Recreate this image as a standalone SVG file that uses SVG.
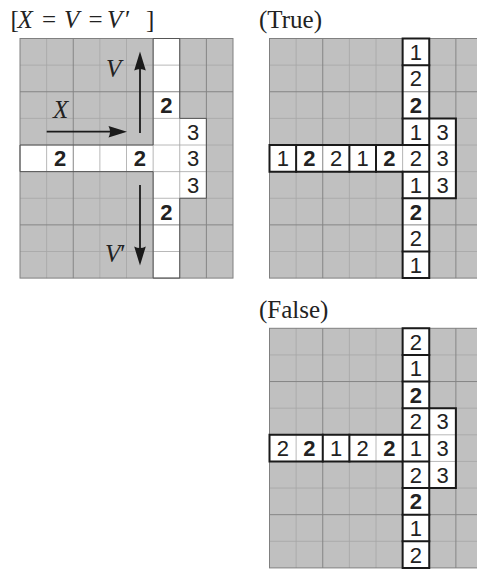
<svg xmlns="http://www.w3.org/2000/svg" width="477" height="570" viewBox="0 0 477 570">
<style>
.bg{fill:#c0c0c0}
.minor{stroke:#a6a6a6;stroke-width:0.8;fill:none}
.major{stroke:#858585;stroke-width:1;fill:none}
.frame{stroke:#808080;stroke-width:1;fill:none}
.cell{fill:#ffffff}
.wout{stroke:#555555;stroke-width:1;fill:none}
.thick{stroke:#1a1a1a;stroke-width:2;fill:none;stroke-linecap:square}
.num{font-family:"Liberation Sans","DejaVu Sans",sans-serif;font-size:22px;fill:#222;text-anchor:middle}
.b{font-weight:bold}
.ttl{font-family:"Liberation Serif","DejaVu Serif",serif;font-size:25px;fill:#222}
.it{font-style:italic}
.arr{stroke:#1a1a1a;stroke-width:1.8;fill:none}
.head{fill:#1a1a1a}
</style>

<!-- ===== Left panel ===== -->
<g id="left-panel">
<text class="ttl" y="27.5" font-size="26"><tspan x="10.5">[</tspan><tspan x="17.5" class="it">X</tspan><tspan x="42">=</tspan><tspan x="64" class="it">V</tspan><tspan x="88.5">=</tspan><tspan x="107" class="it">V</tspan><tspan x="125">′</tspan><tspan x="146">]</tspan></text>
<rect class="bg" x="20" y="38.5" width="213" height="239.6"/>
<g class="cell">
<rect x="153.125" y="38.5" width="26.625" height="239.6"/>
<rect x="179.75" y="118.375" width="26.625" height="79.875"/>
<rect x="20" y="145" width="133.125" height="26.625"/>
</g>
<path class="minor" d="M46.625 38.5V278.1M99.875 38.5V278.1M126.5 38.5V278.1M153.125 38.5V278.1M179.75 38.5V278.1M20 65.125H233M20 118.375H233M20 145H233M20 171.625H233M20 198.25H233M20 251.5H233"/>
<path class="major" d="M73.25 38.5V278.1M206.375 38.5V278.1M20 91.75H233M20 224.875H233"/>
<rect class="frame" x="20" y="38.5" width="213" height="239.6"/>
<path class="wout" d="M153.125 38.5H179.75V118.375H206.375V198.25H179.75V278.1H153.125V171.625H20V145H153.125Z"/>
<g id="left-numbers">
<text class="num b" x="166.4" y="113">2</text>
<text class="num" x="193" y="139.6">3</text>
<text class="num b" x="60" y="166.3">2</text>
<text class="num b" x="139.8" y="166.3">2</text>
<text class="num" x="193" y="166.3">3</text>
<text class="num" x="193" y="192.9">3</text>
<text class="num b" x="166.4" y="219.5">2</text>
</g>
</g>

<g id="connectors">
<path class="arr" d="M140 133V66"/>
<path class="head" d="M140 51.5L145.8 70.5Q140 67.5 134.2 70.5Z"/>
<path class="arr" d="M46.7 131.7H113"/>
<path class="head" d="M127 131.7L108.5 137.4Q111.5 131.7 108.5 126Z"/>
<path class="arr" d="M140 185V251"/>
<path class="head" d="M140 265.5L145.8 246.5Q140 249.5 134.2 246.5Z"/>
</g>
<g id="label-V"><text class="ttl it" x="106" y="76.5" font-size="26">V</text></g>
<g id="label-X"><text class="ttl it" x="53" y="118" font-size="26">X</text></g>
<g id="label-V2"><text class="ttl it" x="105" y="262" font-size="26">V<tspan font-style="normal">′</tspan></text></g>

<!-- ===== True panel ===== -->
<g id="true-panel">
<text class="ttl" x="259" y="28">(True)</text>
<rect class="bg" x="269.5" y="38.5" width="213" height="239.6"/>
<g class="cell">
<rect x="402.625" y="38.5" width="26.625" height="239.6"/>
<rect x="429.25" y="118.375" width="26.625" height="79.875"/>
<rect x="269.5" y="145" width="133.125" height="26.625"/>
</g>
<path class="minor" d="M296.125 38.5V278.1M349.375 38.5V278.1M376 38.5V278.1M402.625 38.5V278.1M429.25 38.5V278.1M269.5 65.125H483M269.5 118.375H483M269.5 145H483M269.5 171.625H483M269.5 198.25H483M269.5 251.5H483"/>
<path class="major" d="M322.75 38.5V278.1M455.875 38.5V278.1M269.5 91.75H483M269.5 224.875H483"/>
<rect class="frame" x="269.5" y="38.5" width="213" height="239.6"/>
<path class="thick" d="M402.625 38.5H429.25V118.375H455.875V198.25H429.25V278.1H402.625V171.625H269.5V145H402.625Z"/>
<path class="thick" d="M402.625 65.125H429.25M402.625 118.375H429.25M402.625 145H429.25M402.625 171.625H429.25M402.625 198.25H429.25M402.625 251.5H429.25M429.25 118.375V198.25M296.125 145V171.625M349.375 145V171.625M376 145V171.625"/>
<g id="true-numbers">
<text class="num" x="415.9" y="59.8">1</text>
<text class="num" x="415.9" y="86.4">2</text>
<text class="num b" x="415.9" y="113">2</text>
<text class="num" x="415.9" y="139.6">1</text>
<text class="num" x="442.6" y="139.6">3</text>
<text class="num" x="282.8" y="166.3">1</text>
<text class="num b" x="309.4" y="166.3">2</text>
<text class="num" x="336.1" y="166.3">2</text>
<text class="num" x="362.7" y="166.3">1</text>
<text class="num b" x="389.3" y="166.3">2</text>
<text class="num" x="415.9" y="166.3">2</text>
<text class="num" x="442.6" y="166.3">3</text>
<text class="num" x="415.9" y="192.9">1</text>
<text class="num" x="442.6" y="192.9">3</text>
<text class="num b" x="415.9" y="219.5">2</text>
<text class="num" x="415.9" y="246.2">2</text>
<text class="num" x="415.9" y="272.8">1</text>
</g>
</g>

<!-- ===== False panel ===== -->
<g id="false-panel">
<text class="ttl" x="259" y="318">(False)</text>
<rect class="bg" x="269.5" y="328.3" width="213" height="239.6"/>
<g class="cell">
<rect x="402.625" y="328.3" width="26.625" height="239.6"/>
<rect x="429.25" y="408.175" width="26.625" height="79.875"/>
<rect x="269.5" y="434.8" width="133.125" height="26.625"/>
</g>
<path class="minor" d="M296.125 328.3V567.9M349.375 328.3V567.9M376 328.3V567.9M402.625 328.3V567.9M429.25 328.3V567.9M269.5 354.925H483M269.5 408.175H483M269.5 434.8H483M269.5 461.425H483M269.5 488.05H483M269.5 541.3H483"/>
<path class="major" d="M322.75 328.3V567.9M455.875 328.3V567.9M269.5 381.55H483M269.5 514.675H483"/>
<rect class="frame" x="269.5" y="328.3" width="213" height="239.6"/>
<path class="thick" d="M402.625 328.3H429.25V408.175H455.875V488.05H429.25V567.9H402.625V461.425H269.5V434.8H402.625Z"/>
<path class="thick" d="M402.625 354.925H429.25M402.625 381.55H429.25M402.625 408.175H429.25M402.625 434.8H429.25M402.625 461.425H429.25M402.625 488.05H429.25M402.625 514.675H429.25M402.625 541.3H429.25M429.25 408.175V488.05M322.75 434.8V461.425M349.375 434.8V461.425M402.625 434.8V461.425"/>
<g id="false-numbers">
<text class="num" x="415.9" y="349.6">2</text>
<text class="num" x="415.9" y="376.2">1</text>
<text class="num b" x="415.9" y="402.8">2</text>
<text class="num" x="415.9" y="429.4">2</text>
<text class="num" x="442.6" y="429.4">3</text>
<text class="num" x="282.8" y="456.1">2</text>
<text class="num b" x="309.4" y="456.1">2</text>
<text class="num" x="336.1" y="456.1">1</text>
<text class="num" x="362.7" y="456.1">2</text>
<text class="num b" x="389.3" y="456.1">2</text>
<text class="num" x="415.9" y="456.1">1</text>
<text class="num" x="442.6" y="456.1">3</text>
<text class="num" x="415.9" y="482.7">2</text>
<text class="num" x="442.6" y="482.7">3</text>
<text class="num b" x="415.9" y="509.3">2</text>
<text class="num" x="415.9" y="535.9">1</text>
<text class="num" x="415.9" y="562.6">2</text>
</g>
</g>
</svg>
